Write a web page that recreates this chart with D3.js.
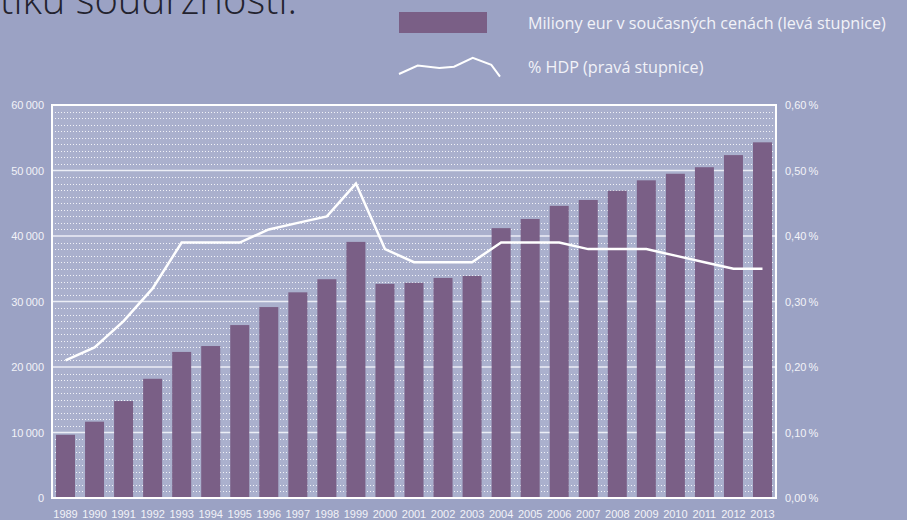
<!DOCTYPE html>
<html>
<head>
<meta charset="utf-8">
<script src="https://cdn.jsdelivr.net/npm/d3@7/dist/d3.min.js"></script>
<style>
  html, body { margin: 0; padding: 0; background: #9ba2c4; }
  svg { display: block; }
</style>
</head>
<body>
<svg id="chart" width="907" height="520"></svg>
<script>
// ---- data ----
const years = ["1989","1990","1991","1992","1993","1994","1995","1996","1997","1998","1999","2000","2001","2002","2003","2004","2005","2006","2007","2008","2009","2010","2011","2012","2013"];
const eurMillions = [9650, 11650, 14800, 18200, 22300, 23200, 26400, 29150, 31400, 33400, 39100, 32700, 32850, 33600, 33900, 41200, 42600, 44600, 45500, 46900, 48500, 49500, 50500, 52350, 54300];
const gdpShare = [0.21, 0.23, 0.27, 0.32, 0.39, 0.39, 0.39, 0.41, 0.42, 0.43, 0.48, 0.38, 0.36, 0.36, 0.36, 0.39, 0.39, 0.39, 0.38, 0.38, 0.38, 0.37, 0.36, 0.35, 0.35];
const leftTicks = [0, 10000, 20000, 30000, 40000, 50000, 60000];
const rightTicks = [0, 0.1, 0.2, 0.3, 0.4, 0.5, 0.6];
const legendBarLabel = "Miliony eur v současných cenách (levá stupnice)";
const legendLineLabel = "% HDP (pravá stupnice)";
const legendSampleX = [0, 18.5, 39.9, 54.5, 73, 91.4, 100];
const legendSampleY = [0.177, 0.225, 0.211, 0.219, 0.269, 0.229, 0.162];
const titleText = "tiku soudržnosti.";

// ---- layout ----
const svg = d3.select("#chart");
const L = 52, R = 776, T = 105, B = 498;
const colBg = "#9ba2c4", colPlot = "#aab0cd", colBar = "#7a5f86", colText = "#f2f2f8";
const narrow = "'Liberation Sans Narrow', 'Arial Narrow', 'Liberation Sans', sans-serif";
const sans = "'Open Sans', 'Noto Sans', sans-serif";

const x = d3.scaleBand().domain(years).range([L, R]).paddingInner(0.346).paddingOuter(0.138);
const yL = d3.scaleLinear().domain([0, 60000]).range([B, T]);
const yR = d3.scaleLinear().domain([0, 0.6]).range([B, T]);

svg.append("rect").attr("width", 907).attr("height", 520).attr("fill", colBg);

// title (cropped at the top edge, as in the source)
const title = svg.append("text").attr("x", 0).attr("y", 14)
  .attr("font-family", sans).attr("font-weight", 300)
  .attr("font-size", 32).attr("fill", "#23232e").text(titleText);
const tw = title.node().getComputedTextLength();
title.attr("font-size", 32 * 297 / tw);

// plot background
svg.append("rect").attr("x", L).attr("y", T).attr("width", R - L).attr("height", B - T).attr("fill", colPlot);

// minor dotted gridlines
const minor = d3.range(1000, 60000, 1000).filter(v => v % 10000 !== 0);
svg.append("g").selectAll("line").data(minor).join("line")
  .attr("x1", L).attr("x2", R)
  .attr("y1", d => Math.round(yL(d)) + 0.5).attr("y2", d => Math.round(yL(d)) + 0.5)
  .attr("stroke", "#ffffff").attr("stroke-opacity", 0.85).attr("stroke-width", 1)
  .attr("stroke-dasharray", "1,2");

// major gridlines
svg.append("g").selectAll("line").data(leftTicks.filter(v => v > 0 && v < 60000)).join("line")
  .attr("x1", L).attr("x2", R)
  .attr("y1", d => yL(d)).attr("y2", d => yL(d))
  .attr("stroke", "#eceef6").attr("stroke-width", 1.6);

// bars
svg.append("g").selectAll("rect").data(years).join("rect")
  .attr("x", d => x(d)).attr("width", x.bandwidth())
  .attr("y", (d, i) => yL(eurMillions[i]))
  .attr("height", (d, i) => B - yL(eurMillions[i]))
  .attr("fill", colBar);

// plot border
svg.append("rect").attr("x", L).attr("y", T).attr("width", R - L).attr("height", B - T)
  .attr("fill", "none").attr("stroke", "#ffffff").attr("stroke-width", 2);

// line
const line = d3.line().x((d, i) => x(years[i]) + x.bandwidth() / 2).y(d => yR(d));
svg.append("path").datum(gdpShare).attr("d", line)
  .attr("fill", "none").attr("stroke", "#ffffff").attr("stroke-width", 2.5)
  .attr("stroke-linejoin", "miter");

// axes
const fmtL = v => d3.format(",")(v).replace(/,/g, "\u2009");
const fmtR = v => d3.format(".2f")(v).replace(".", ",") + "\u2009%";

function styleAxis(g) {
  g.select(".domain").remove();
  g.selectAll(".tick line").remove();
  g.selectAll("text").attr("font-family", narrow).attr("font-size", 11).attr("fill", colText);
}

svg.append("g").attr("transform", `translate(${L},0)`)
  .call(d3.axisLeft(yL).tickValues(leftTicks).tickFormat(fmtL).tickSize(0).tickPadding(8))
  .call(styleAxis);

svg.append("g").attr("transform", `translate(${R},0)`)
  .call(d3.axisRight(yR).tickValues(rightTicks).tickFormat(fmtR).tickSize(0).tickPadding(9))
  .call(styleAxis);

svg.append("g").attr("transform", `translate(0,${B})`)
  .call(d3.axisBottom(x).tickSize(0).tickPadding(12))
  .call(styleAxis);

// legend
svg.append("rect").attr("x", 399).attr("y", 12).attr("width", 88).attr("height", 21).attr("fill", colBar);
const lt1 = svg.append("text").attr("x", 528).attr("y", 23).attr("dy", "0.35em")
  .attr("font-family", sans).attr("font-size", 13).attr("fill", colText).text(legendBarLabel);
const lt2 = svg.append("text").attr("x", 528).attr("y", 67).attr("dy", "0.35em")
  .attr("font-family", sans).attr("font-size", 13).attr("fill", colText).text(legendLineLabel);
const w1 = lt1.node().getComputedTextLength();
const fs = 13 * 358 / w1;
lt1.attr("font-size", fs); lt2.attr("font-size", fs);

const lx = d3.scaleLinear().domain([0, 100]).range([399, 500]);
const ly = d3.scaleLinear().domain([0, 0.6]).range([105, 0]);
svg.append("path").datum(legendSampleY)
  .attr("d", d3.line().x((d, i) => lx(legendSampleX[i])).y(d => ly(d)))
  .attr("fill", "none").attr("stroke", "#ffffff").attr("stroke-width", 2);
</script>
</body>
</html>
